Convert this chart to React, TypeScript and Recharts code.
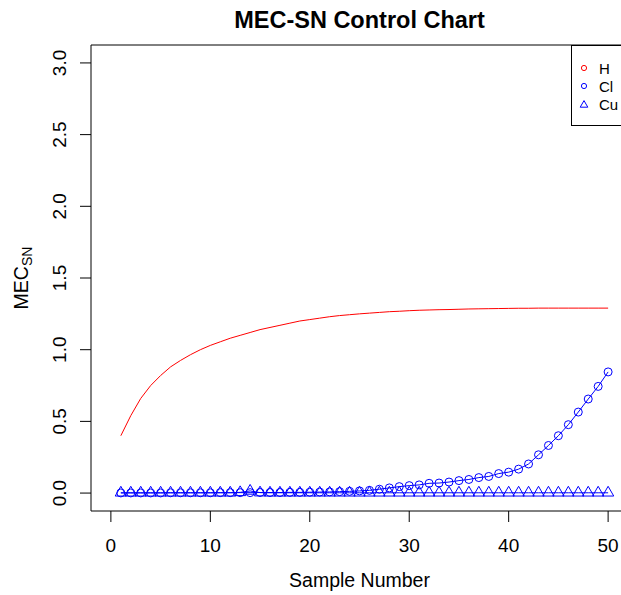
import { LineChart, Line, XAxis, YAxis, ReferenceArea } from "recharts";

const sampleNumbers = [
  1, 2, 3, 4, 5, 6, 7, 8, 9, 10, 11, 12, 13, 14, 15, 16, 17, 18, 19, 20, 21, 22, 23, 24, 25,
  26, 27, 28, 29, 30, 31, 32, 33, 34, 35, 36, 37, 38, 39, 40, 41, 42, 43, 44, 45, 46, 47, 48, 49, 50,
];

const hValues = [
  0.4, 0.54, 0.66, 0.75, 0.82, 0.88, 0.925, 0.965, 1.0, 1.03, 1.055, 1.08, 1.1, 1.12, 1.14, 1.155, 1.17,
  1.185, 1.2, 1.21, 1.22, 1.23, 1.238, 1.244, 1.25, 1.255, 1.26, 1.265, 1.268, 1.272, 1.275, 1.277, 1.279,
  1.28, 1.282, 1.284, 1.285, 1.286, 1.287, 1.288, 1.289, 1.289, 1.29, 1.29, 1.29, 1.29, 1.29, 1.29, 1.29, 1.29,
];

const clValues = [
  0.001, 0.001, 0.001, 0.001, 0.001, 0.002, 0.002, 0.002, 0.002, 0.002, 0.003, 0.003, 0.003, 0.003, 0.004,
  0.004, 0.004, 0.005, 0.005, 0.006, 0.007, 0.008, 0.01, 0.012, 0.015, 0.019, 0.027, 0.036, 0.045, 0.052,
  0.057, 0.068, 0.07, 0.077, 0.087, 0.095, 0.108, 0.116, 0.136, 0.146, 0.167, 0.203, 0.267, 0.332, 0.4,
  0.477, 0.565, 0.656, 0.744, 0.845,
];

const cuValues = [
  0.002, 0.002, 0.002, 0.002, 0.002, 0.002, 0.002, 0.002, 0.002, 0.002, 0.002, 0.002, 0.005, 0.015, 0.003,
  0.002, 0.002, 0.002, 0.002, 0.002, 0.002, 0.002, 0.002, 0.002, 0.002, 0.002, 0.002, 0.002, 0.002, 0.002,
  0.002, 0.002, 0.002, 0.002, 0.002, 0.002, 0.002, 0.002, 0.002, 0.002, 0.002, 0.002, 0.002, 0.002, 0.002,
  0.002, 0.002, 0.002, 0.002, 0.002,
];

const xTicks = [0, 10, 20, 30, 40, 50];
const yTicks = [0, 0.5, 1, 1.5, 2, 2.5, 3];

const legendItems = [
  { name: "H", color: "#ff0000", shape: "circle" },
  { name: "Cl", color: "#0000ff", shape: "circle" },
  { name: "Cu", color: "#0000ff", shape: "triangle" },
];

const data = sampleNumbers.map((n, i) => ({
  sample: n,
  H: hValues[i],
  Cl: clValues[i],
  Cu: cuValues[i],
}));

const FONT = "'Liberation Sans', Arial, sans-serif";

function trianglePath(cx: number, cy: number, r: number) {
  const h = r * 0.866;
  return `M${cx},${cy - r}L${cx + h},${cy + r / 2}L${cx - h},${cy + r / 2}Z`;
}

function TriangleDot(props: any) {
  const { cx, cy, index } = props;
  if (cx == null || cy == null) return null;
  return (
    <path key={`tri-${index}`} d={trianglePath(cx, cy, 6.5)} fill="none" stroke="#0000ff" strokeWidth={1} />
  );
}

function XTick(props: any) {
  const { x, y, payload } = props;
  return (
    <text x={x} y={y + 28} textAnchor="middle" fontSize={19} fontFamily={FONT} fill="#000">
      {payload.value}
    </text>
  );
}

function YTick(props: any) {
  const { x, y, payload } = props;
  const px = x - 12;
  return (
    <text
      x={px}
      y={y}
      transform={`rotate(-90, ${px}, ${y})`}
      textAnchor="middle"
      fontSize={19}
      fontFamily={FONT}
      fill="#000"
    >
      {Number(payload.value).toFixed(1)}
    </text>
  );
}

function XLabel(props: any) {
  const { viewBox } = props;
  const cx = viewBox.x + viewBox.width / 2;
  return (
    <text x={cx} y={viewBox.y + 76} textAnchor="middle" fontSize={19.5} fontFamily={FONT} fill="#000">
      Sample Number
    </text>
  );
}

function YLabel(props: any) {
  const { viewBox } = props;
  const px = viewBox.x + 28;
  const cy = viewBox.y + viewBox.height / 2;
  return (
    <text
      x={px}
      y={cy}
      transform={`rotate(-90, ${px}, ${cy})`}
      textAnchor="middle"
      fontSize={19.5}
      fontFamily={FONT}
      fill="#000"
    >
      MEC
      <tspan fontSize={14} dy={4}>
        SN
      </tspan>
    </text>
  );
}

function LegendBox() {
  return (
    <div
      style={{
        position: "absolute",
        left: 571,
        top: 45,
        border: "1px solid #000",
        width: 70,
        height: 81,
        background: "#fff",
        boxSizing: "border-box",
      }}
    >
      <svg width={70} height={81} style={{ display: "block" }}>
        {legendItems.map((item, i) => {
          const cy = 22 + i * 18;
          return (
            <g key={item.name}>
              {item.shape === "circle" ? (
                <circle cx={12} cy={cy} r={2.6} fill="none" stroke={item.color} strokeWidth={1} />
              ) : (
                <path d={trianglePath(12, cy + 1, 4.4)} fill="none" stroke={item.color} strokeWidth={1} />
              )}
              <text x={27} y={cy + 5.5} fontSize={15} fontFamily={FONT} fill="#000">
                {item.name}
              </text>
            </g>
          );
        })}
      </svg>
    </div>
  );
}

export default function App() {
  return (
    <div
      style={{
        position: "absolute",
        left: 0,
        top: 0,
        width: 621,
        height: 595,
        overflow: "hidden",
        background: "#fff",
      }}
    >
      <div
        style={{
          position: "absolute",
          left: 91,
          width: 537,
          top: 7,
          textAlign: "center",
          fontFamily: FONT,
          fontWeight: "bold",
          fontSize: 23.5,
          lineHeight: "26px",
          color: "#000",
        }}
      >
        MEC-SN Control Chart
      </div>
      <LineChart
        width={640}
        height={595}
        data={data}
        margin={{ top: 45, right: 12, left: 0, bottom: 0 }}
        style={{ position: "absolute", left: 0, top: 0 }}
      >
        <XAxis
          dataKey="sample"
          type="number"
          domain={[-2, 52]}
          ticks={xTicks}
          allowDataOverflow
          height={84}
          axisLine={false}
          tickLine={{ stroke: "#000" }}
          tickSize={11}
          tick={<XTick />}
          label={<XLabel />}
        />
        <YAxis
          type="number"
          domain={[-0.125, 3.125]}
          ticks={yTicks}
          allowDataOverflow
          width={91}
          axisLine={false}
          tickLine={{ stroke: "#000" }}
          tickSize={11}
          tick={<YTick />}
          label={<YLabel />}
        />
        <ReferenceArea x1={-2} x2={52} y1={-0.125} y2={3.125} fill="none" stroke="#000" strokeWidth={1} />
        <Line
          dataKey="H"
          type="linear"
          stroke="#ff0000"
          strokeWidth={1}
          dot={false}
          activeDot={false}
          isAnimationActive={false}
        />
        <Line
          dataKey="Cl"
          type="linear"
          stroke="#0000ff"
          strokeWidth={1}
          dot={{ r: 4, fill: "none", stroke: "#0000ff", strokeWidth: 1 }}
          activeDot={false}
          isAnimationActive={false}
        />
        <Line
          dataKey="Cu"
          type="linear"
          stroke="#0000ff"
          strokeWidth={1}
          dot={<TriangleDot />}
          activeDot={false}
          isAnimationActive={false}
        />
      </LineChart>
      <LegendBox />
    </div>
  );
}
